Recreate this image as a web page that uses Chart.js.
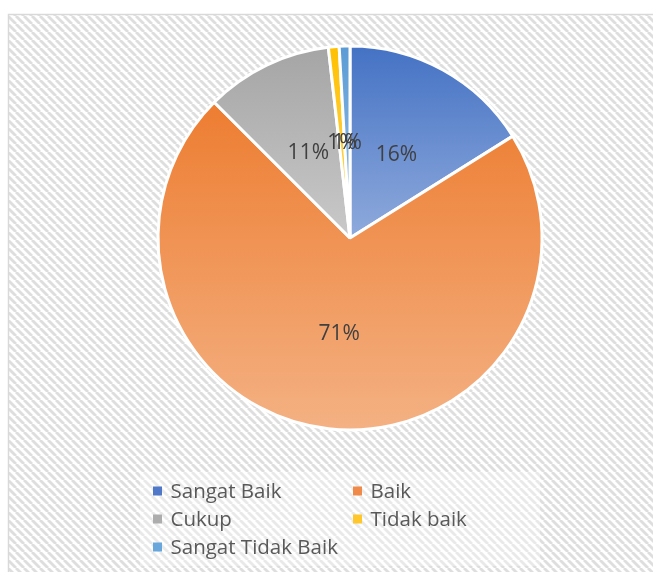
<!DOCTYPE html>
<html>
<head>
<meta charset="utf-8">
<script src="https://cdn.jsdelivr.net/npm/chart.js@4/dist/chart.umd.min.js"></script>
<style>
  html, body { margin: 0; padding: 0; background: #ffffff; }
  canvas { display: block; }
</style>
</head>
<body>
<canvas id="c" width="653" height="572"></canvas>
<script>
const categories = ['Sangat Baik', 'Baik', 'Cukup', 'Tidak baik', 'Sangat Tidak Baik'];
const values = [16.1, 71.4, 10.7, 0.9, 0.9];
const baseColors = ['#4472C4', '#ED7D31', '#A5A5A5', '#FFC000', '#5B9BD5'];
const lightColors = ['#8FAADC', '#F4B183', '#C9C9C9', '#FFD966', '#9DC3E6'];
const markerColors = ['#4F78C8', '#EF8A4B', '#ADADAD', '#FFC72B', '#69A6DC'];

const PIE_RADIUS = 192;
const FONT = '"Open Sans", "Liberation Sans", sans-serif';

function sliceGradient(ctx) {
  const chart = ctx.chart;
  const i = ctx.dataIndex;
  const ca = chart.chartArea;
  if (!ca || i === undefined) return baseColors[i] || '#999';
  const cx = (ca.left + ca.right) / 2, cy = (ca.top + ca.bottom) / 2, r = PIE_RADIUS;
  const total = values.reduce((a, b) => a + b, 0);
  let cum = 0;
  for (let k = 0; k < i; k++) cum += values[k];
  const a0 = -Math.PI / 2 + 2 * Math.PI * cum / total;
  const a1 = a0 + 2 * Math.PI * values[i] / total;
  const ys = [cy, cy + r * Math.sin(a0), cy + r * Math.sin(a1)];
  [-Math.PI / 2, Math.PI / 2, 3 * Math.PI / 2].forEach(k => {
    if (k >= a0 && k <= a1) ys.push(cy + r * Math.sin(k));
  });
  const y0 = Math.min(...ys), y1 = Math.max(...ys);
  const g = chart.ctx.createLinearGradient(0, y0, 0, Math.max(y1, y0 + 1));
  g.addColorStop(0, baseColors[i]);
  g.addColorStop(1, lightColors[i]);
  return g;
}

function makePattern() {
  const s = 8;
  const pc = document.createElement('canvas');
  pc.width = s; pc.height = s;
  const p = pc.getContext('2d');
  p.fillStyle = '#ffffff';
  p.fillRect(0, 0, s, s);
  p.strokeStyle = '#dedede';
  p.lineWidth = 2.8;
  [-s, 0, s].forEach(k => {
    p.beginPath();
    p.moveTo(k, 0);
    p.lineTo(k + s, s);
    p.stroke();
  });
  return pc;
}

const backgroundPlugin = {
  id: 'bgFrame',
  beforeDraw(chart) {
    const c = chart.ctx;
    c.save();
    c.fillStyle = '#ffffff';
    c.fillRect(0, 0, chart.width, chart.height);
    const pat = c.createPattern(makePattern(), 'repeat');
    c.fillStyle = pat;
    c.fillRect(9, 15, chart.width - 9, chart.height - 15);
    c.fillStyle = 'rgba(255,255,255,0.35)';
    c.fillRect(140, 472, 400, 94);
    c.strokeStyle = '#d9d9d9';
    c.lineWidth = 1.5;
    c.beginPath();
    c.moveTo(8.5, chart.height);
    c.lineTo(8.5, 14.5);
    c.lineTo(chart.width, 14.5);
    c.stroke();
    c.restore();
  }
};

const labelPlugin = {
  id: 'pctLabels',
  afterDatasetsDraw(chart) {
    const c = chart.ctx;
    const meta = chart.getDatasetMeta(0);
    const total = values.reduce((a, b) => a + b, 0);
    c.save();
    c.font = '21px ' + FONT;
    c.fillStyle = '#404040';
    c.textAlign = 'center';
    c.textBaseline = 'middle';
    meta.data.forEach((arc, i) => {
      const pt = arc.getCenterPoint();
      c.fillText(Math.round(values[i] / total * 100) + '%', pt.x, pt.y + 1);
    });
    c.restore();
  }
};

const legendPlugin = {
  id: 'gridLegend',
  afterDraw(chart) {
    const c = chart.ctx;
    const colX = [153, 353];
    const rowY = [491, 519, 547];
    c.save();
    c.font = '20.5px ' + FONT;
    c.textBaseline = 'middle';
    c.textAlign = 'left';
    chart.data.labels.forEach((lab, i) => {
      const x = colX[i % 2], y = rowY[Math.floor(i / 2)];
      c.fillStyle = markerColors[i];
      c.fillRect(x, y - 4.5, 9, 9);
      c.fillStyle = '#595959';
      c.fillText(lab, x + 17.5, y + 1);
    });
    c.restore();
  }
};

new Chart(document.getElementById('c'), {
  type: 'pie',
  data: {
    labels: categories,
    datasets: [{
      data: values,
      backgroundColor: sliceGradient,
      borderColor: '#ffffff',
      borderWidth: 3
    }]
  },
  options: {
    responsive: false,
    devicePixelRatio: 1,
    animation: false,
    events: [],
    radius: PIE_RADIUS,
    layout: { padding: { left: 100, right: 53, top: 41, bottom: 137 } },
    plugins: {
      legend: { display: false },
      tooltip: { enabled: false }
    }
  },
  plugins: [backgroundPlugin, labelPlugin, legendPlugin]
});
</script>
</body>
</html>
